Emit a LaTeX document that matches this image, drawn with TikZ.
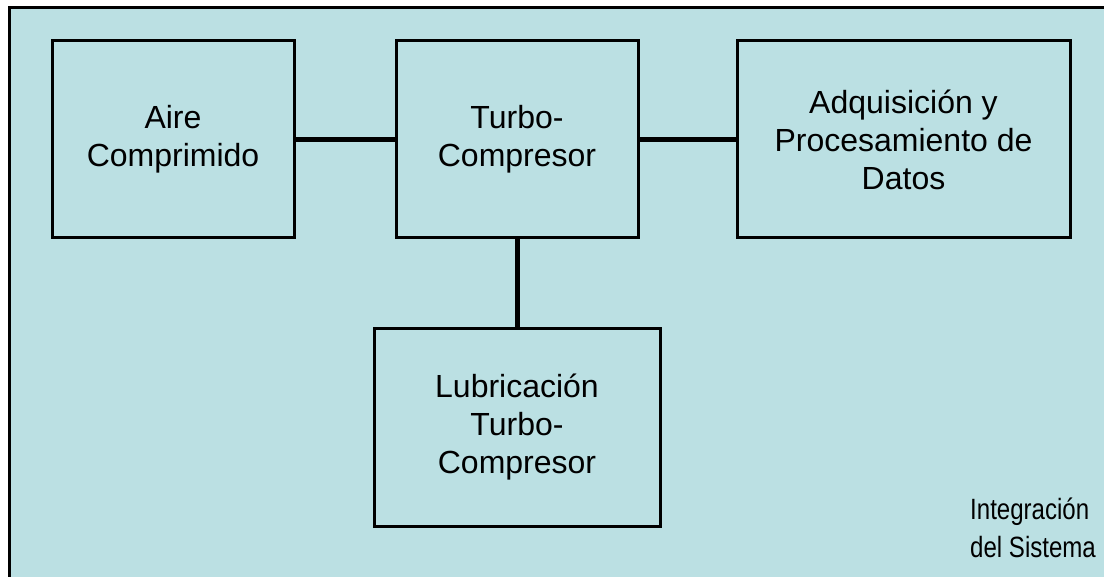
\documentclass[tikz,border=0pt]{standalone}
\usepackage{fontspec}
\setmainfont{Liberation Sans}
\definecolor{bgc}{RGB}{187,224,227}
\begin{document}
\begin{tikzpicture}[x=0.75pt,y=-0.75pt,
  blk/.style={draw=black,line width=2.25pt,inner sep=0pt,outer sep=0pt,align=center,
    font=\fontsize{24pt}{28.5pt}\selectfont},
  link/.style={line width=3.75pt}]
\useasboundingbox[fill=white] (0,0) rectangle (1104,577);
\draw[line width=2.25pt,fill=bgc] (9,8) rectangle (1130,600);
\node[blk,minimum width=181.5pt,minimum height=147.75pt] (aire) at (173,139.5) {Aire\\Comprimido};
\node[blk,minimum width=181.5pt,minimum height=147.75pt] (turbo) at (517,139.5) {Turbo-\\Compresor};
\node[blk,minimum width=249.75pt,minimum height=147.75pt] (adq) at (903.5,139.5) {Adquisición y\\Procesamiento de\\Datos};
\node[blk,minimum width=214.5pt,minimum height=147.75pt] (lub) at (517,427.5) {Lubricación\\Turbo-\\Compresor};
\node[align=left,inner sep=0pt,anchor=west,xscale=0.82,transform shape,font=\fontsize{22pt}{28.5pt}\selectfont] (integ) at (970,528) {Integración\\del Sistema};
\draw[link] (aire.east) -- (turbo.west);
\draw[link] (turbo.east) -- (adq.west);
\draw[link] (turbo.south) -- (lub.north);
\end{tikzpicture}
\end{document}
